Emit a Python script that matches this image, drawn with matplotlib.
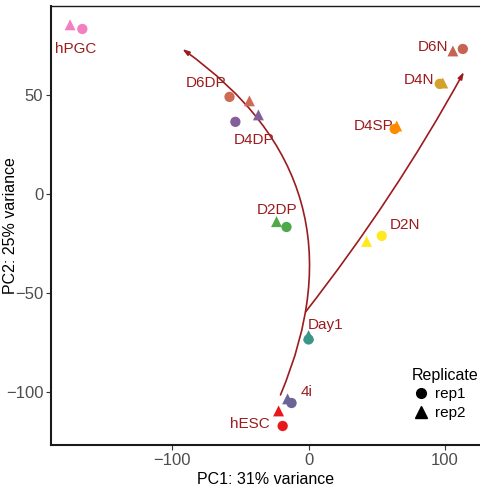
import matplotlib
matplotlib.use("Agg")
import matplotlib.pyplot as plt
from matplotlib.lines import Line2D

plt.rcParams['font.family'] = ['Liberation Sans', 'DejaVu Sans']

groups = ["hPGC", "D6DP", "D4DP", "D2DP", "D2N", "D4SP", "D4N", "D6N", "Day1", "4i", "hESC"]
colors = ["#F47FC0", "#CF6A55", "#84609A", "#4DA94A", "#FFEA1F", "#FF8C00",
          "#D4A12A", "#C66454", "#3A9688", "#6A6595", "#E8191D"]
x_rep1 = [-166, -58, -53.7, -16.2, 53.7, 63.2, 96.3, 113.2, 0, -12.5, -19]
y_rep1 = [83.3, 49, 36.4, -16.7, -21.2, 32.8, 55.6, 73.2, -73.5, -105.6, -117.2]
x_rep2 = [-175, -43.4, -36.8, -23.5, 42.6, 64.7, 98.5, 105.9, 0, -15.4, -22]
y_rep2 = [85.4, 47, 39.9, -14, -24, 34.3, 56, 72.2, -71.5, -103.5, -109.6]
label_x = [-170.6, -75, -39.7, -22.8, 70.6, 47.8, 80.9, 91.2, 12.5, -1.5, -43.4]
label_y = [73.3, 56.1, 27.3, -8.1, -15.7, 34.4, 57.6, 74.3, -66.2, -100.1, -116.3]

# trajectory arrows: (start, end, curvature)
arrows = [((-20.6, -101.5), (-92.6, 73.2), 0.4),
          ((-2.2, -59.6), (114, 61.6), 0.04)]

xlim = (-189, 126.5)
ylim = (-126.8, 94.9)
xticks = [-100, 0, 100]
yticks = [-100, -50, 0, 50]

label_col = "#9B1B1E"

fig = plt.figure(figsize=(4.8, 4.92), dpi=100)
ax = fig.add_axes([51/480, 47/492, 1.0 - 51/480 + 0.002, (445-6)/492])

for (s, e, rad) in arrows:
    ax.annotate("", xy=e, xytext=s,
                arrowprops=dict(arrowstyle="-|>,head_length=0.4,head_width=0.13",
                                connectionstyle=f"arc3,rad={rad}",
                                color=label_col, lw=1.2, shrinkA=0, shrinkB=0))

ax.scatter(x_rep2, y_rep2, c=colors, marker="^", s=62, linewidths=0, zorder=3)
ax.scatter(x_rep1, y_rep1, c=colors, marker="o", s=55, linewidths=0, zorder=3)

for g, lx, ly in zip(groups, label_x, label_y):
    ax.text(lx, ly, g, color=label_col, fontsize=11, ha="center", va="center", zorder=4)

ax.set_xlim(*xlim)
ax.set_ylim(*ylim)
ax.set_xticks(xticks)
ax.set_yticks(yticks)
ax.set_xticklabels(["\u2212100", "0", "100"])
ax.set_yticklabels(["\u2212100", "\u221250", "0", "50"])
ax.tick_params(axis="both", colors="#333333", labelcolor="#4D4D4D", labelsize=12,
               length=3.5, width=0.8, pad=2)
for side in ["left", "bottom"]:
    ax.spines[side].set_linewidth(1.5)
    ax.spines[side].set_color("#1A1A1A")
ax.spines["top"].set_linewidth(1.0)
ax.spines["top"].set_color("#1A1A1A")
ax.spines["right"].set_visible(False)

ax.set_xlabel("PC1: 31% variance", fontsize=11.5, color="black", labelpad=3)
ax.set_ylabel("PC2: 25% variance", fontsize=11.5, color="black")
ax.yaxis.set_label_coords(-33/429, 0.5)

handles = [Line2D([], [], marker="o", color="black", linestyle="none", markersize=7),
           Line2D([], [], marker="^", color="black", linestyle="none", markersize=8)]
leg = ax.legend(handles, ["rep1", "rep2"], title="Replicate", loc="lower right",
                bbox_to_anchor=(1.016, 0.036), frameon=False, fontsize=11,
                title_fontsize=11.5, handletextpad=0.3, handlelength=1.2,
                labelspacing=0.3, borderaxespad=0.2)
leg._legend_box.align = "left"

fig.savefig("out.png", dpi=100)
